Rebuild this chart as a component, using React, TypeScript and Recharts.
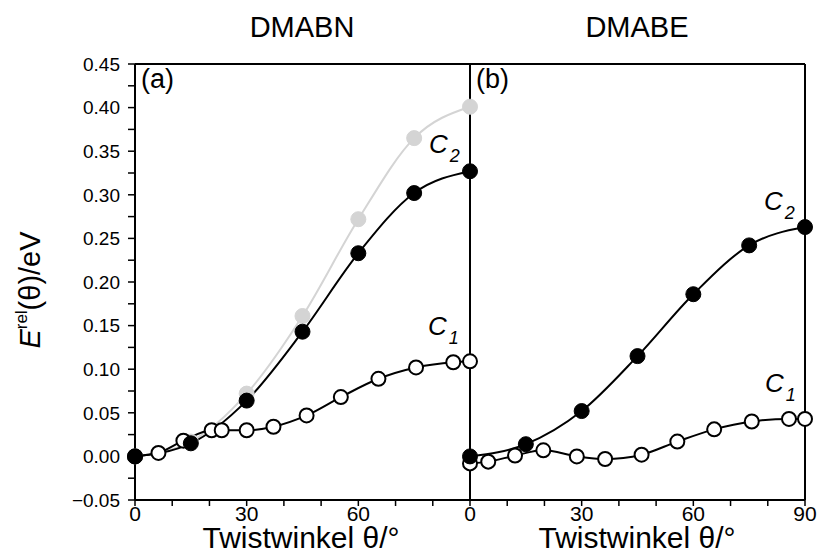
import { LineChart, Line, XAxis, YAxis, ReferenceLine } from "recharts";

// Twistwinkel (degrees) and relative energies (eV)
const c2Angles = [0, 15, 30, 45, 60, 75, 90];
const dmabnC2 = [0, 0.015, 0.064, 0.143, 0.233, 0.302, 0.327];
const dmabnGrey = [0, 0.017, 0.072, 0.161, 0.272, 0.365, 0.401];
const dmabnC1Angles = [0, 6.3, 13, 20.6, 23.3, 30, 37.2, 46.1, 55.3, 65.4, 75.5, 85.5, 90];
const dmabnC1 = [0, 0.004, 0.018, 0.03, 0.03, 0.03, 0.034, 0.047, 0.068, 0.089, 0.102, 0.108, 0.109];

const dmabeC2 = [0, 0.014, 0.052, 0.115, 0.186, 0.242, 0.263];
const dmabeC1Angles = [0, 4.9, 12.1, 19.7, 28.7, 36.3, 46.1, 55.7, 65.6, 75.7, 85.7, 90];
const dmabeC1 = [-0.008, -0.006, 0.001, 0.007, 0.0, -0.003, 0.002, 0.017, 0.031, 0.04, 0.043, 0.043];

const xTicks = [0, 10, 20, 30, 40, 50, 60, 70, 80, 90, 100, 110, 120, 130, 140, 150, 160, 170, 180];
const yTicks = [
  -0.05, -0.025, 0, 0.025, 0.05, 0.075, 0.1, 0.125, 0.15, 0.175, 0.2, 0.225, 0.25, 0.275, 0.3, 0.325,
  0.35, 0.375, 0.4, 0.425, 0.45,
];

// right panel (DMABE) sits at 90..180 on the shared x axis
const points = (angles: number[], energies: number[], shift: number) =>
  angles.map((a, i) => ({ angle: a + shift, energy: energies[i] }));

const FONT = "'Liberation Sans', Arial, sans-serif";

const fmtX = (v: number) => {
  if (v % 30 !== 0) return "";
  if (v === 90) return "0";
  return String(v > 90 ? v - 90 : v);
};

const fmtY = (v: number) => {
  if (Math.round(v * 1000) % 50 !== 0) return "";
  const s = Math.abs(v).toFixed(2);
  return v < 0 ? "\u2212" + s : s;
};

function ClassLabel({ x, y, sub }: { x: number; y: number; sub: string }) {
  return (
    <text x={x} y={y} fontSize={26} fontStyle="italic" fontFamily={FONT}>
      C
      <tspan fontSize={18} dx={2} dy={9}>
        {sub}
      </tspan>
    </text>
  );
}

export default function App() {
  const filled = { r: 7.5, fill: "#000", stroke: "#000", strokeWidth: 1 };
  const open = { r: 7, fill: "#fff", stroke: "#000", strokeWidth: 2 };
  const grey = { r: 7.5, fill: "#d4d4d4", stroke: "#d4d4d4", strokeWidth: 1 };

  return (
    <div style={{ position: "relative", width: 817, height: 554, fontFamily: FONT }}>
      <style>{"body{margin:0}"}</style>
      <LineChart width={817} height={554} margin={{ top: 64, right: 12, bottom: 0, left: 0 }}>
        <XAxis
          type="number"
          dataKey="angle"
          domain={[0, 180]}
          ticks={xTicks}
          interval={0}
          tickFormatter={fmtX}
          height={54}
          tickSize={6}
          tickMargin={0}
          stroke="#000"
          axisLine={{ stroke: "#000", strokeWidth: 2 }}
          tickLine={{ stroke: "#000", strokeWidth: 1.5 }}
          tick={{ fill: "#000", fontSize: 21 }}
        />
        <YAxis
          type="number"
          domain={[-0.05, 0.45]}
          ticks={yTicks}
          interval={0}
          tickFormatter={fmtY}
          width={135}
          tickSize={7}
          tickMargin={8}
          axisLine={{ stroke: "#000", strokeWidth: 2 }}
          tickLine={{ stroke: "#000", strokeWidth: 1.5 }}
          tick={{ fill: "#000", fontSize: 19 }}
        />
        <Line
          data={points(c2Angles, dmabnGrey, 0)}
          dataKey="energy"
          name="DMABN grau"
          type="monotone"
          stroke="#d4d4d4"
          strokeWidth={2}
          dot={grey}
          isAnimationActive={false}
        />
        <Line
          data={points(dmabnC1Angles, dmabnC1, 0)}
          dataKey="energy"
          name="DMABN C1"
          type="monotone"
          stroke="#000"
          strokeWidth={2}
          dot={open}
          isAnimationActive={false}
        />
        <Line
          data={points(c2Angles, dmabnC2, 0)}
          dataKey="energy"
          name="DMABN C2"
          type="monotone"
          stroke="#000"
          strokeWidth={2}
          dot={filled}
          isAnimationActive={false}
        />
        <Line
          data={points(dmabeC1Angles, dmabeC1, 90)}
          dataKey="energy"
          name="DMABE C1"
          type="monotone"
          stroke="#000"
          strokeWidth={2}
          dot={open}
          isAnimationActive={false}
        />
        <Line
          data={points(c2Angles, dmabeC2, 90)}
          dataKey="energy"
          name="DMABE C2"
          type="monotone"
          stroke="#000"
          strokeWidth={2}
          dot={filled}
          isAnimationActive={false}
        />
        <ReferenceLine x={90} stroke="#000" strokeWidth={2} />
        <ReferenceLine x={180} stroke="#000" strokeWidth={2} />
        <ReferenceLine y={0.45} stroke="#000" strokeWidth={2} />
      </LineChart>
      <svg
        width={817}
        height={554}
        style={{ position: "absolute", left: 0, top: 0, pointerEvents: "none" }}
        fontFamily={FONT}
      >
        <text x={302} y={37} fontSize={29} textAnchor="middle">DMABN</text>
        <text x={637} y={37} fontSize={29} textAnchor="middle">DMABE</text>
        <text x={301} y={548} fontSize={30} textAnchor="middle">Twistwinkel θ/°</text>
        <text x={637} y={548} fontSize={30} textAnchor="middle">Twistwinkel θ/°</text>
        <text x={40} y={290} fontSize={29} textAnchor="middle" transform="rotate(-90 40 290)">
          <tspan fontStyle="italic">E</tspan>
          <tspan fontSize={17} dy={-13}>rel</tspan>
          <tspan dy={13}>(θ)/eV</tspan>
        </text>
        <text x={141} y={88} fontSize={27}>(a)</text>
        <text x={476} y={88} fontSize={27}>(b)</text>
        <ClassLabel x={429} y={153} sub="2" />
        <ClassLabel x={428} y={335} sub="1" />
        <ClassLabel x={764} y={210} sub="2" />
        <ClassLabel x={765} y={392} sub="1" />
      </svg>
    </div>
  );
}
